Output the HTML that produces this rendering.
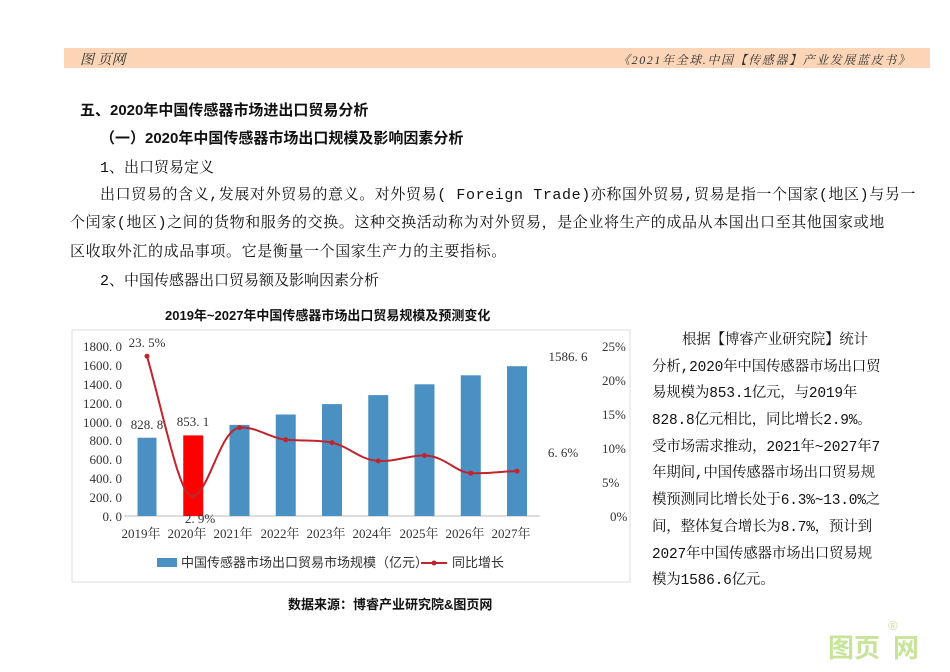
<!DOCTYPE html>
<html><head><meta charset="utf-8">
<style>
body{margin:0;width:950px;height:672px;background:#fff;position:relative;overflow:hidden;font-family:"Liberation Mono","Noto Serif CJK SC",serif;color:#111}
.t{position:absolute;white-space:nowrap;font-size:15px}
.b{font-family:"Liberation Sans","Noto Sans CJK SC",sans-serif;font-weight:bold}
.r{font-size:14.5px;letter-spacing:-0.2px}
</style></head><body>
<div style="position:absolute;left:64px;top:48px;width:866px;height:20px;background:#fbd5b5"></div>
<div class="t" style="left:80px;top:49px;font-style:italic;font-size:14px;color:#333;font-family:'Liberation Serif','Noto Serif CJK SC',serif">图 页网</div>
<div class="t" style="left:618px;top:51px;font-style:italic;font-size:12px;letter-spacing:1.6px;color:#333;font-family:'Liberation Serif','Noto Serif CJK SC',serif">《2021年全球.中国【传感器】产业发展蓝皮书》</div>

<div class="t b" style="left:80px;top:99px">五、2020年中国传感器市场进出口贸易分析</div>
<div class="t b" style="left:100px;top:127px">（一）2020年中国传感器市场出口规模及影响因素分析</div>
<div class="t" style="left:100px;top:156px">1、出口贸易定义</div>
<div class="t" style="left:100px;top:183px;letter-spacing:0.6px">出口贸易的含义,发展对外贸易的意义。对外贸易( Foreign Trade)亦称国外贸易,贸易是指一个国家(地区)与另一</div>
<div class="t" style="left:70px;top:211px;letter-spacing:0.6px">个闰家(地区)之间的货物和服务的交换。这种交换活动称为对外贸易，是企业将生产的成品从本国出口至其他国家或地</div>
<div class="t" style="left:70px;top:240px;letter-spacing:0.6px">区收取外汇的成品事项。它是衡量一个国家生产力的主要指标。</div>
<div class="t" style="left:100px;top:269px">2、中国传感器出口贸易额及影响因素分析</div>
<div class="t b" style="left:165px;top:305px;font-size:13px">2019年~2027年中国传感器市场出口贸易规模及预测变化</div>
<div class="t b" style="left:288px;top:594px;font-size:13px">数据来源：博睿产业研究院&amp;图页网</div>

<svg style="position:absolute;left:0;top:0" width="950" height="672">
<rect x="72" y="330" width="558" height="252" fill="#fff" stroke="#ddd"/>
<g font-family="Liberation Serif,Noto Serif CJK SC,serif" font-size="13" fill="#333">
<g text-anchor="end">
<text x="122" y="521">0. 0</text><text x="122" y="502">200. 0</text><text x="122" y="483">400. 0</text><text x="122" y="464">600. 0</text><text x="122" y="445">800. 0</text><text x="122" y="427">1000. 0</text><text x="122" y="408">1200. 0</text><text x="122" y="389">1400. 0</text><text x="122" y="370">1600. 0</text><text x="122" y="351">1800. 0</text>
</g>
<text x="610" y="521">0%</text>
<text x="602" y="487">5%</text><text x="602" y="453">10%</text><text x="602" y="419">15%</text><text x="602" y="385">20%</text><text x="602" y="351">25%</text>
</g>
<line x1="124" y1="516" x2="540" y2="516" stroke="#bbb"/>
<g fill="#4a90c2">
<rect x="137.5" y="437.7" width="19" height="78.3"/>
<rect x="229.5" y="424.9" width="20" height="91.1"/>
<rect x="275.75" y="414.5" width="20" height="101.5"/>
<rect x="322" y="404.1" width="20" height="111.9"/>
<rect x="368.25" y="395.1" width="20" height="120.9"/>
<rect x="414.5" y="384.3" width="20" height="131.7"/>
<rect x="460.75" y="375.3" width="20" height="140.7"/>
<rect x="507" y="366.2" width="20" height="149.8"/>
</g>
<rect x="183.25" y="435.4" width="20" height="80.6" fill="#f00"/>
<path d="M147,356.2 C165,420 180,500 193.25,496.3 C210,490 220,430 239.5,427.6 C255,426 270,438 285.75,439.8 C305,441 320,440 332,442.6 C350,447 360,460 378.25,460.9 C395,462 410,455 424.5,455.5 C445,456 455,472 470.75,473.2 C490,474 505,471 517,471.1" fill="none" stroke="#c0242c" stroke-width="2"/>
<g fill="#c0242c"><circle cx="147" cy="356.2" r="2.5"/><circle cx="193.25" cy="496.3" r="2.5"/><circle cx="239.5" cy="427.6" r="2.5"/><circle cx="285.75" cy="439.8" r="2.5"/><circle cx="332" cy="442.6" r="2.5"/><circle cx="378.25" cy="460.9" r="2.5"/><circle cx="424.5" cy="455.5" r="2.5"/><circle cx="470.75" cy="473.2" r="2.5"/><circle cx="517" cy="471.1" r="2.5"/></g>
<g font-family="Liberation Serif,Noto Serif CJK SC,serif" font-size="13" fill="#333" text-anchor="middle">
<text x="147" y="347">23. 5%</text><text x="147" y="429">828. 8</text><text x="193" y="426">853. 1</text><text x="200" y="523">2. 9%</text><text x="563" y="457">6. 6%</text><text x="568" y="361">1586. 6</text>
<text x="141" y="538">2019年</text><text x="187" y="538">2020年</text><text x="233" y="538">2021年</text><text x="280" y="538">2022年</text><text x="326" y="538">2023年</text><text x="372" y="538">2024年</text><text x="419" y="538">2025年</text><text x="465" y="538">2026年</text><text x="511" y="538">2027年</text>
</g>
<rect x="157" y="558" width="20" height="9" fill="#4a90c2"/>
<text x="181" y="567" font-family="Liberation Sans,Noto Sans CJK SC,sans-serif" font-size="13" fill="#333">中国传感器市场出口贸易市场规模（亿元）</text>
<line x1="421" y1="563" x2="447" y2="563" stroke="#c0242c" stroke-width="2"/><circle cx="434" cy="563" r="2.5" fill="#c0242c"/>
<text x="452" y="567" font-family="Liberation Sans,Noto Sans CJK SC,sans-serif" font-size="13" fill="#333">同比增长</text>
<g font-family="Liberation Sans,Noto Sans CJK SC,sans-serif" font-weight="bold" font-size="26" fill="#c8e39a"><text x="828" y="657">图页</text><text x="893" y="657">网</text></g>
<text x="888" y="630" font-size="13" fill="#c8e39a" font-family="Liberation Sans,sans-serif">®</text>
</svg>

<div class="t r" style="left:682px;top:328px">根据【博睿产业研究院】统计</div>
<div class="t r" style="left:652px;top:355px">分析,2020年中国传感器市场出口贸</div>
<div class="t r" style="left:652px;top:381px">易规模为853.1亿元，与2019年</div>
<div class="t r" style="left:652px;top:408px">828.8亿元相比，同比增长2.9%。</div>
<div class="t r" style="left:652px;top:435px">受市场需求推动，2021年~2027年7</div>
<div class="t r" style="left:652px;top:461px">年期间,中国传感器市场出口贸易规</div>
<div class="t r" style="left:652px;top:488px">模预测同比增长处于6.3%~13.0%之</div>
<div class="t r" style="left:652px;top:515px">间，整体复合增长为8.7%，预计到</div>
<div class="t r" style="left:652px;top:542px">2027年中国传感器市场出口贸易规</div>
<div class="t r" style="left:652px;top:568px">模为1586.6亿元。</div>
</body></html>
